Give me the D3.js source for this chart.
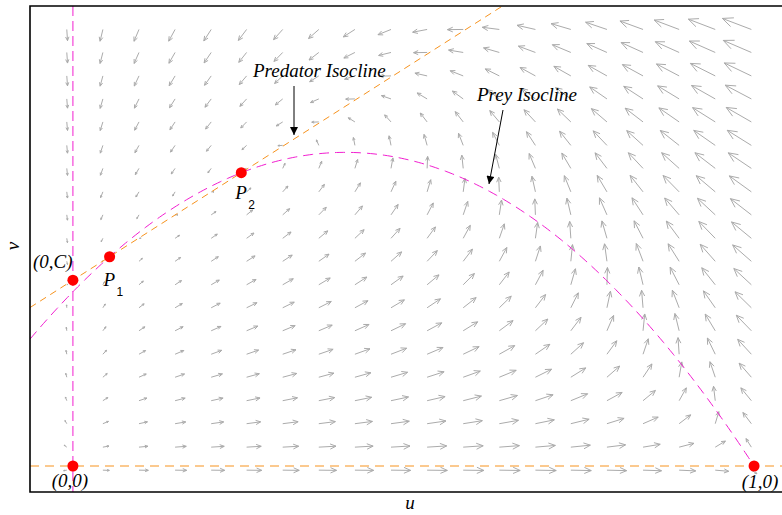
<!DOCTYPE html>
<html>
<head>
<meta charset="utf-8">
<script src="https://cdn.jsdelivr.net/npm/d3@7/dist/d3.min.js"></script>
<style>
  html, body { margin: 0; padding: 0; background: #fff; }
  svg { display: block; }
</style>
</head>
<body>
<svg id="chart" width="782" height="515"></svg>
<script>
// Prey–predator phase plane (time rescaled by the factor u + D):
//   du/dt = u [ (1-u)(u+D) - A v ]
//   dv/dt = S v (u+D) (C + K u - v)
// Prey isocline: v = (1-u)(u+D)/A, predator isocline: v = C + K u.
const A = 0.528;   // predation strength
const D = 0.2;     // half-saturation constant
const C = 0.404;   // predator level supported by alternative food
const K = 0.945;   // slope of the predator isocline
const S = 0.62;    // predator rate

// Visible window of the phase plane
const uDomain = [-0.063, 1.041];
const vDomain = [-0.0565, 1.0];

// Sampling grid of the direction field
const uGrid = [-0.009, 0.044, 0.097, 0.150, 0.203, 0.255, 0.308, 0.361, 0.414, 0.467,
               0.520, 0.573, 0.626, 0.679, 0.731, 0.784, 0.837, 0.890, 0.943, 0.996];
const vGrid = [-0.009, 0.041, 0.092, 0.142, 0.193, 0.243, 0.294, 0.344, 0.394, 0.445,
               0.495, 0.546, 0.596, 0.647, 0.697, 0.748, 0.798, 0.848, 0.899, 0.949];

// Labelled equilibria on the axes
const axisPoints = [
  { u: 0, v: 0, label: "(0,0)" },
  { u: 0, v: C, label: "(0,C)" },
  { u: 1, v: 0, label: "(1,0)" }
];
const interiorLabels = ["1", "2"];

const frame = { left: 30, top: 6, right: 783, bottom: 492 };

const x = d3.scaleLinear().domain(uDomain).range([frame.left, frame.right - 1]);
const y = d3.scaleLinear().domain(vDomain).range([frame.bottom, frame.top]);

const svg = d3.select("#chart");

const defs = svg.append("defs");
defs.append("clipPath").attr("id", "plot-clip")
  .append("rect")
  .attr("x", frame.left).attr("y", frame.top)
  .attr("width", frame.right - frame.left).attr("height", frame.bottom - frame.top);
defs.append("marker")
  .attr("id", "ann-head")
  .attr("viewBox", "0 0 10 10")
  .attr("refX", 10).attr("refY", 5)
  .attr("markerWidth", 11).attr("markerHeight", 8)
  .attr("markerUnits", "userSpaceOnUse")
  .attr("orient", "auto")
  .append("path").attr("d", "M0,0 L10,5 L0,10 Z").attr("fill", "#000");

// Vector field of the system
function field(u, v) {
  const du = u * ((1 - u) * (u + D) - A * v);
  const dv = S * v * (u + D) * (C + K * u - v);
  return [du, dv];
}

const preyIso = u => (1 - u) * (u + D) / A;
const predIso = u => C + K * u;

// Interior equilibria: intersections of the two isoclines
const qb = A * K - 1 + D, qc = A * C - D;
const disc = Math.sqrt(qb * qb - 4 * qc);
const interior = [(-qb - disc) / 2, (-qb + disc) / 2]
  .map((u, i) => ({ u, v: predIso(u), sub: interiorLabels[i] }));

const plot = svg.append("g").attr("clip-path", "url(#plot-clip)");

// Direction field arrows (tail at the grid point, compressed length scale)
const pxU = x(1) - x(0), pxV = y(0) - y(1);
const cells = [];
uGrid.forEach(u => vGrid.forEach(v => {
  const [du, dv] = field(u, v);
  const dx = du * pxU, dy = -dv * pxV;
  cells.push({ u, v, dx, dy, m: Math.hypot(dx, dy) });
}));
const maxM = d3.max(cells, c => c.m);
const lenScale = d3.scalePow().exponent(0.4).domain([0, maxM]).range([0, 31]);

const arrowPath = c => {
  if (c.m < 1e-9) return "";
  const x0 = x(c.u), y0 = y(c.v);
  const L = lenScale(c.m);
  const ux = c.dx / c.m, uy = c.dy / c.m;
  const x1 = x0 + ux * L, y1 = y0 + uy * L;
  const back = 0.34 * L, side = 0.15 * L;
  const hx1 = x1 - ux * back - uy * side, hy1 = y1 - uy * back + ux * side;
  const hx2 = x1 - ux * back + uy * side, hy2 = y1 - uy * back - ux * side;
  return `M${x0},${y0}L${x1},${y1}M${hx1},${hy1}L${x1},${y1}L${hx2},${hy2}`;
};

plot.append("g")
  .selectAll("path")
  .data(cells)
  .join("path")
  .attr("d", arrowPath)
  .attr("fill", "none")
  .attr("stroke", "#ababab")
  .attr("stroke-width", 1);

// Isoclines
const magenta = "#f21fd0", orange = "#f7931e";
const uSamples = d3.range(uDomain[0], 1.0001, 0.005);

plot.append("line")
  .attr("x1", x(0)).attr("x2", x(0))
  .attr("y1", frame.top).attr("y2", frame.bottom)
  .attr("stroke", magenta).attr("stroke-width", 1).attr("stroke-dasharray", "10,5");

plot.append("path")
  .datum(uSamples)
  .attr("d", d3.line().x(u => x(u)).y(u => y(preyIso(u))))
  .attr("fill", "none").attr("stroke", magenta).attr("stroke-width", 1)
  .attr("stroke-dasharray", "10,6");

plot.append("line")
  .attr("x1", frame.left).attr("x2", frame.right)
  .attr("y1", y(0)).attr("y2", y(0))
  .attr("stroke", orange).attr("stroke-width", 1).attr("stroke-dasharray", "9,6");

plot.append("line")
  .attr("x1", x(uDomain[0])).attr("y1", y(predIso(uDomain[0])))
  .attr("x2", x(uDomain[1])).attr("y2", y(predIso(uDomain[1])))
  .attr("stroke", orange).attr("stroke-width", 1).attr("stroke-dasharray", "7,5");

// Equilibria
svg.append("g").selectAll("circle")
  .data(axisPoints.concat(interior))
  .join("circle")
  .attr("cx", d => x(d.u)).attr("cy", d => y(d.v))
  .attr("r", 5.5)
  .attr("fill", "#ff0000");

// Frame
svg.append("path")
  .attr("d", `M${frame.right},${frame.top}H${frame.left}V${frame.bottom}H${frame.right}`)
  .attr("fill", "none").attr("stroke", "#000").attr("stroke-width", 1.6);

// Text
const serif = "'Liberation Serif', 'Times New Roman', serif";
const sans = "'Liberation Sans', Arial, sans-serif";
const txt = svg.append("g").attr("font-family", serif).attr("font-style", "italic").attr("fill", "#000");

txt.append("text").attr("x", x(0) - 40).attr("y", y(C) - 12).attr("font-size", 19).text(axisPoints[1].label);
txt.append("text").attr("x", x(0) - 3).attr("y", 487).attr("text-anchor", "middle").attr("font-size", 19).text(axisPoints[0].label);
txt.append("text").attr("x", x(1) + 6).attr("y", 488).attr("text-anchor", "middle").attr("font-size", 19).text(axisPoints[2].label);

interior.forEach((p, i) => {
  const px = x(p.u) - 6, py = y(p.v) + (i === 0 ? 29 : 26);
  txt.append("text").attr("x", px).attr("y", py).attr("font-size", 19).text("P");
  svg.append("text").attr("x", px + 13).attr("y", py + 10)
    .attr("font-family", sans).attr("font-size", 12).text(p.sub);
});

txt.append("text").attr("x", 253).attr("y", 77).attr("font-size", 19).text("Predator Isocline");
txt.append("text").attr("x", 477).attr("y", 101).attr("font-size", 19).text("Prey Isocline");

// Annotation arrows
svg.append("line").attr("x1", 294).attr("y1", 86).attr("x2", 294).attr("y2", 135)
  .attr("stroke", "#000").attr("stroke-width", 1).attr("marker-end", "url(#ann-head)");
svg.append("line").attr("x1", 503).attr("y1", 110).attr("x2", 489).attr("y2", 184)
  .attr("stroke", "#000").attr("stroke-width", 1).attr("marker-end", "url(#ann-head)");

// Axis titles
txt.append("text").attr("x", 410).attr("y", 509).attr("text-anchor", "middle").attr("font-size", 19).text("u");
txt.append("text").attr("transform", "translate(19,246) rotate(-90)").attr("text-anchor", "middle").attr("font-size", 19).text("v");
</script>
</body>
</html>
